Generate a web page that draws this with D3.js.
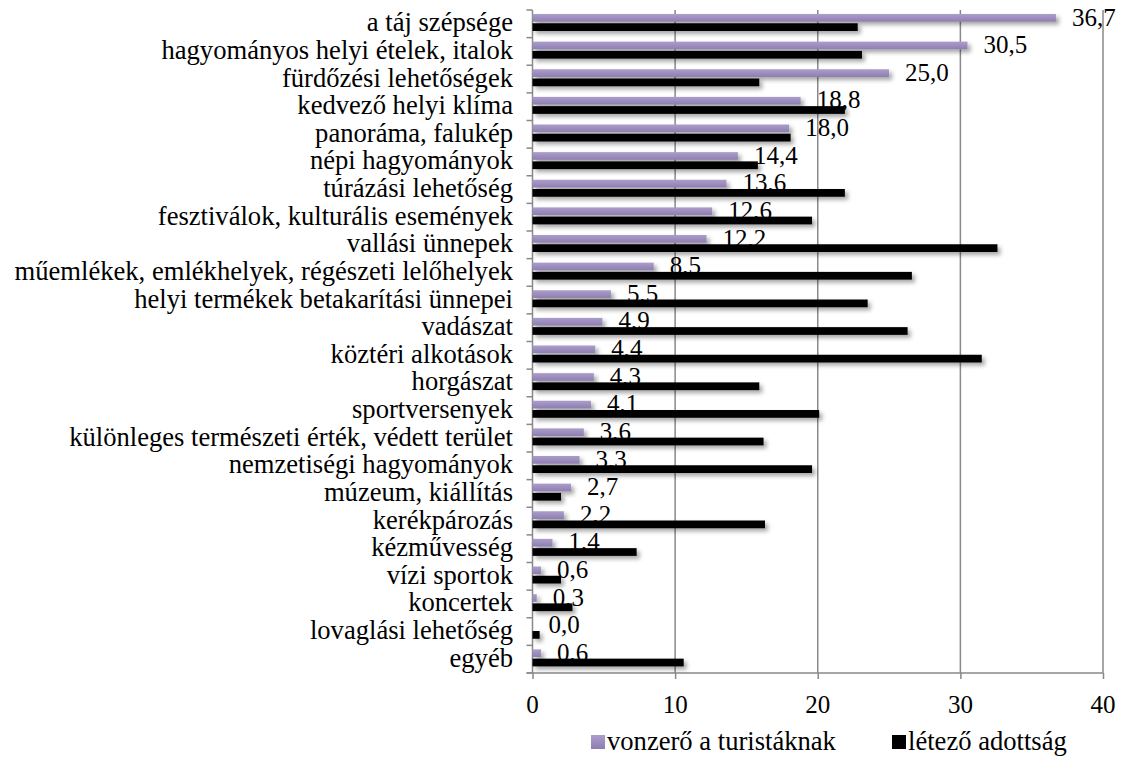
<!DOCTYPE html>
<html>
<head>
<meta charset="utf-8">
<script src="https://cdn.jsdelivr.net/npm/d3@7"></script>
<style>
  body { margin: 0; background: #fff; }
</style>
</head>
<body>
<div id="chart"></div>
<script>
// categories, top to bottom
const categories = [
  'a táj szépsége', 'hagyományos helyi ételek, italok', 'fürdőzési lehetőségek',
  'kedvező helyi klíma', 'panoráma, falukép', 'népi hagyományok', 'túrázási lehetőség',
  'fesztiválok, kulturális események', 'vallási ünnepek',
  'műemlékek, emlékhelyek, régészeti lelőhelyek', 'helyi termékek betakarítási ünnepei',
  'vadászat', 'köztéri alkotások', 'horgászat', 'sportversenyek',
  'különleges természeti érték, védett terület', 'nemzetiségi hagyományok',
  'múzeum, kiállítás', 'kerékpározás', 'kézművesség', 'vízi sportok ', 'koncertek',
  'lovaglási lehetőség', 'egyéb'
];
const vonzero = [36.7, 30.5, 25.0, 18.8, 18.0, 14.4, 13.6, 12.6, 12.2, 8.5, 5.5, 4.9,
  4.4, 4.3, 4.1, 3.6, 3.3, 2.7, 2.2, 1.4, 0.6, 0.3, 0.0, 0.6];
const adottsag = [22.8, 23.1, 15.9, 21.9, 18.1, 15.8, 21.9, 19.6, 32.6, 26.6, 23.5, 26.3,
  31.5, 15.9, 20.1, 16.2, 19.6, 2.0, 16.3, 7.3, 2.0, 2.8, 0.5, 10.6];
const xTicks = [0, 10, 20, 30, 40];
const seriesNames = ['vonzerő a turistáknak', 'létező adottság'];

const W = 1126, H = 758;
const fontFamily = '"Liberation Serif", "Times New Roman", serif';
const labelSize = 26.6, valueSize = 25;
const gridColor = '#898989';

const svg = d3.select('#chart').append('svg')
    .attr('width', W)
    .attr('height', H);

const defs = svg.append('defs');
const grad = defs.append('linearGradient')
    .attr('id', 'purple-grad')
    .attr('x1', 0).attr('y1', 0).attr('x2', 0).attr('y2', 1);
grad.append('stop').attr('offset', '0%').attr('stop-color', '#ab9dcb');
grad.append('stop').attr('offset', '100%').attr('stop-color', '#8e7eb0');

const shadow = defs.append('filter')
    .attr('id', 'shadow')
    .attr('x', '-5%').attr('y', '-50%').attr('width', '115%').attr('height', '250%');
shadow.append('feDropShadow')
    .attr('dx', 3).attr('dy', 3)
    .attr('stdDeviation', 2)
    .attr('flood-color', '#000')
    .attr('flood-opacity', 0.35);

const x = d3.scaleLinear().domain([0, 40]).range([532.5, 1103]);
const y = d3.scaleBand().domain(categories).range([10, 673]).padding(0);
const bw = y.bandwidth();

function addText(g, tx, ty, str, size, anchor) {
  return g.append('text')
      .attr('x', tx)
      .attr('y', ty)
      .attr('text-anchor', anchor || 'start')
      .attr('font-family', fontFamily)
      .attr('font-size', size)
      .attr('fill', '#000')
      .text(str);
}

// gridlines
svg.append('g').selectAll('line')
  .data(xTicks.slice(1))
  .join('line')
    .attr('x1', d => x(d)).attr('x2', d => x(d))
    .attr('y1', y.range()[0]).attr('y2', y.range()[1])
    .attr('stroke', gridColor)
    .attr('stroke-width', 1.5);

// bottom axis
const xAxis = svg.append('g')
    .attr('transform', `translate(0,${y.range()[1]})`)
    .call(d3.axisBottom(x).tickValues(xTicks).tickSize(6).tickFormat(''));
xAxis.select('.domain')
    .attr('d', `M${x(0) - 6},0H${x(40)}`)
    .attr('stroke', gridColor).attr('stroke-width', 1.5);
xAxis.selectAll('.tick line').attr('stroke', gridColor).attr('stroke-width', 1.5);
xTicks.forEach(t => addText(svg, x(t), 713, d3.format('d')(t), valueSize, 'middle'));

// left axis with ticks between categories
const bounds = categories.map(c => y(c)).concat([y.range()[1]]);
svg.append('line')
    .attr('x1', x(0)).attr('x2', x(0))
    .attr('y1', y.range()[0]).attr('y2', y.range()[1])
    .attr('stroke', gridColor).attr('stroke-width', 1.5);
svg.append('g').selectAll('line')
  .data(bounds)
  .join('line')
    .attr('x1', x(0) - 6).attr('x2', x(0))
    .attr('y1', d => d).attr('y2', d => d)
    .attr('stroke', gridColor).attr('stroke-width', 1.5);

// category labels
const labels = svg.append('g');
categories.forEach(c => addText(labels, 513, y(c) + bw / 2 + 7.5, c, labelSize, 'end'));

// bars
const bars = svg.append('g').attr('filter', 'url(#shadow)');
bars.selectAll('rect.v')
  .data(categories)
  .join('rect')
    .attr('class', 'v')
    .attr('x', x(0))
    .attr('y', c => y(c) + bw * 0.145)
    .attr('width', (c, i) => x(vonzero[i]) - x(0))
    .attr('height', bw * 0.28)
    .attr('fill', 'url(#purple-grad)');
bars.selectAll('rect.a')
  .data(categories)
  .join('rect')
    .attr('class', 'a')
    .attr('x', x(0))
    .attr('y', c => y(c) + bw * 0.48)
    .attr('width', (c, i) => x(adottsag[i]) - x(0))
    .attr('height', bw * 0.28)
    .attr('fill', '#000');

// value labels for the purple series
const fmt = v => d3.format('.1f')(v).replace('.', ',');
const valueLabels = svg.append('g');
categories.forEach((c, i) =>
  addText(valueLabels, x(vonzero[i]) + 16, y(c) + 15.5, fmt(vonzero[i]), valueSize));

// legend
const legend = svg.append('g');
const legendItems = [
  {name: seriesNames[0], x: 591, fill: 'url(#purple-grad)'},
  {name: seriesNames[1], x: 892, fill: '#000'}
];
legendItems.forEach(d => {
  legend.append('rect')
      .attr('x', d.x).attr('y', 735)
      .attr('width', 14).attr('height', 14)
      .attr('fill', d.fill);
  addText(legend, d.x + 16, 750, d.name, labelSize);
});
</script>
</body>
</html>
